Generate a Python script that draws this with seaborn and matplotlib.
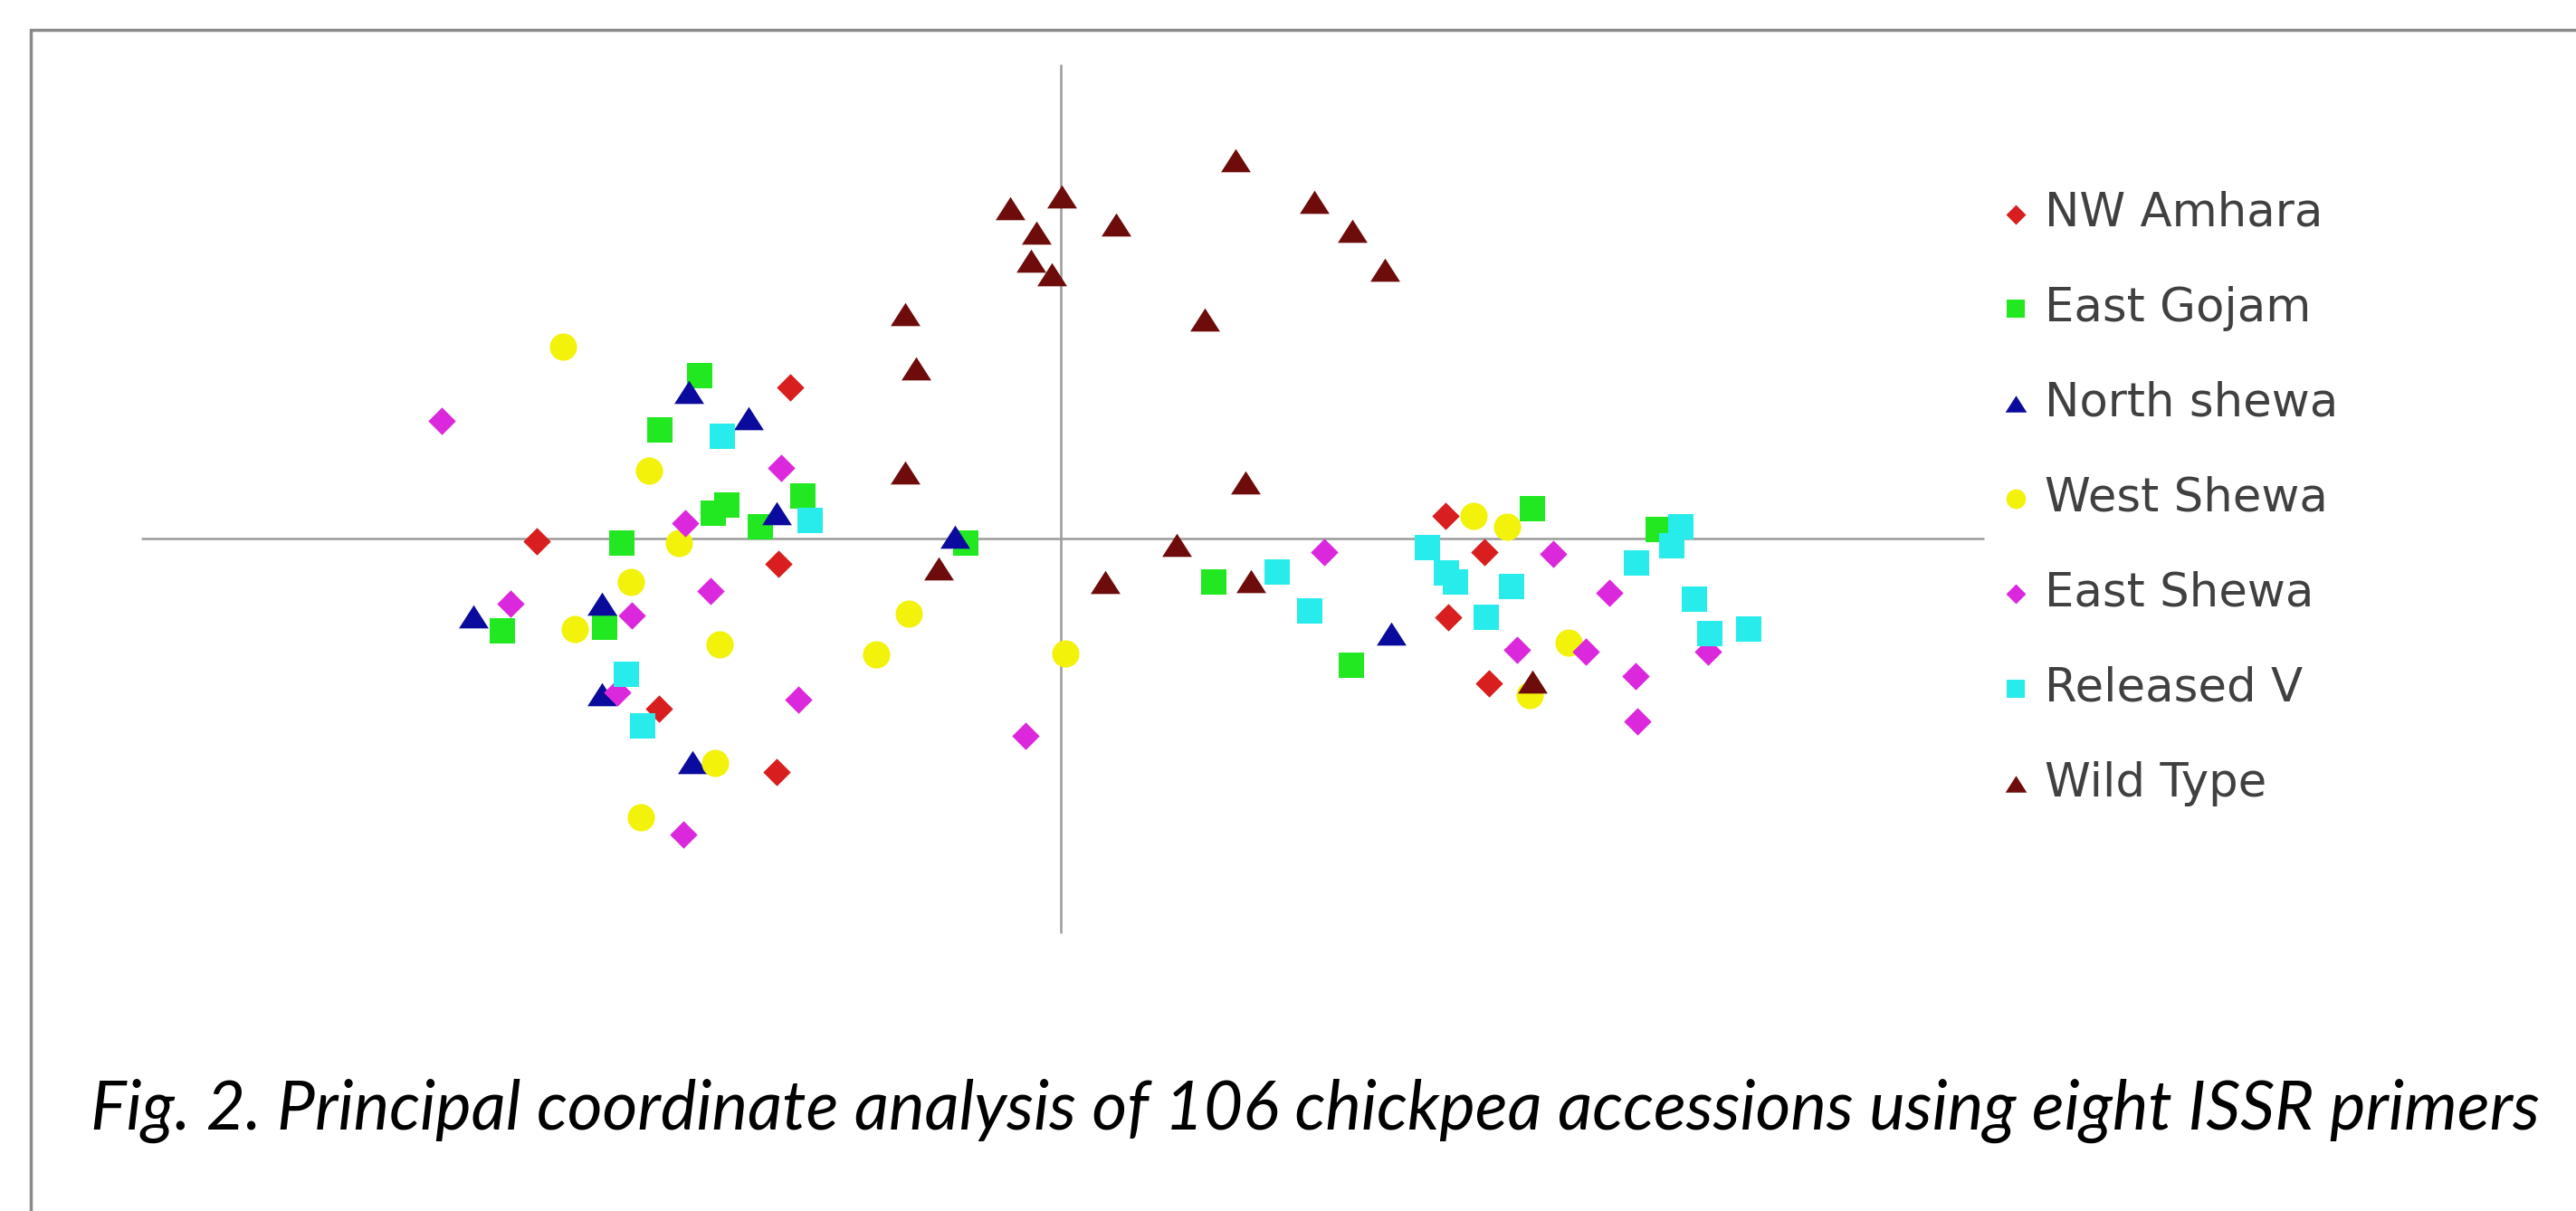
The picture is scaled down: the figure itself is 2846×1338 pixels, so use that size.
import matplotlib
matplotlib.use("Agg")
import matplotlib.pyplot as plt
import seaborn as sns
from matplotlib.patches import Rectangle

# PCoA coordinates (arbitrary units, origin at the axis cross)
nw_amhara_x = [-2.99, -5.79, -3.12, -4.44, -3.14, 4.25, 4.68, 4.28, 4.73]
nw_amhara_y = [1.67, -0.03, -0.28, -1.88, -2.58, 0.25, -0.15, -0.87, -1.60]

east_gojam_x = [-3.99, -4.43, -3.84, -3.69, -2.85, -3.32, -4.85, -6.17, -5.04, -1.05, 1.69, 3.21, 5.21, 6.60]
east_gojam_y = [1.80, 1.20, 0.28, 0.37, 0.47, 0.13, -0.05, -1.02, -0.98, -0.05, -0.48, -1.40, 0.33, 0.10]

north_shewa_x = [-4.11, -3.45, -3.14, -1.17, -6.49, -5.07, -5.07, -4.07, 3.65]
north_shewa_y = [1.62, 1.33, 0.28, 0.02, -0.86, -0.72, -1.72, -2.47, -1.05]

west_shewa_x = [-5.50, -4.55, -4.22, -4.75, -5.37, -3.77, -3.82, -4.64, -1.68, -2.04, 0.05, 4.56, 4.93, 5.61, 5.18]
west_shewa_y = [2.12, 0.75, -0.05, -0.48, -1.00, -1.17, -2.48, -3.08, -0.83, -1.28, -1.27, 0.25, 0.13, -1.15, -1.73]

east_shewa_x = [-6.84, -3.09, -4.15, -3.87, -6.08, -4.74, -4.90, -4.17, -2.90, -0.39, 2.91, 5.44, 6.06, 5.04, 5.80, 6.35, 6.37, 7.15]
east_shewa_y = [1.30, 0.78, 0.17, -0.58, -0.72, -0.85, -1.70, -3.27, -1.78, -2.18, -0.15, -0.17, -0.60, -1.23, -1.25, -1.52, -2.02, -1.25]

released_x = [-3.74, -2.77, -4.80, -4.62, 2.39, 2.75, 4.05, 4.26, 4.36, 4.98, 4.70, 6.36, 6.75, 6.85, 7.00, 7.17, 7.60]
released_y = [1.13, 0.20, -1.50, -2.07, -0.37, -0.80, -0.10, -0.38, -0.48, -0.53, -0.87, -0.27, -0.08, 0.13, -0.67, -1.05, -1.00]

wild_x = [-0.56, 0.01, -0.27, -0.33, -0.10, 0.61, 1.93, 2.80, 3.22, 3.58, 1.59, -1.72, -1.60, -1.72, 2.04, 1.28, -1.35, 0.49, 2.10, 5.21]
wild_y = [3.65, 3.78, 3.38, 3.07, 2.92, 3.47, 4.18, 3.72, 3.40, 2.97, 2.42, 2.48, 1.88, 0.73, 0.62, -0.07, -0.33, -0.48, -0.47, -1.58]

group_names = ["NW Amhara", "East Gojam", "North shewa", "West Shewa", "East Shewa", "Released V", "Wild Type"]
caption = "Fig. 2. Principal coordinate analysis of 106 chickpea accessions using eight ISSR primers"

# Excel-like flat triangle
tri = [(-1, -0.78), (1, -0.78), (0, 0.78)]
styles = [
    ("#d81e1e", "D", 240),
    ("#22e822", "s", 380),
    ("#0a0a9c", tri, 560),
    ("#f2f20a", "o", 470),
    ("#dc28dc", "D", 240),
    ("#28ecec", "s", 380),
    ("#6e0b0b", tri, 560),
]
series = [
    (nw_amhara_x, nw_amhara_y),
    (east_gojam_x, east_gojam_y),
    (north_shewa_x, north_shewa_y),
    (west_shewa_x, west_shewa_y),
    (east_shewa_x, east_shewa_y),
    (released_x, released_y),
    (wild_x, wild_y),
]

sns.set_style("white")
plt.rcParams["font.family"] = ["DejaVu Sans"]

W, H = 2846, 1338
fig = plt.figure(figsize=(W / 100, H / 100), dpi=100)
ax = fig.add_axes([0, 0, 1, 1])
ax.set_xlim(-11.72, 16.74)
ax.set_ylim(-7.43, 5.95)
ax.axis("off")

# axis cross
ax.axhline(0, xmin=157 / W, xmax=2191 / W, color="#9a9a9a", lw=1.8, zorder=1)
ax.axvline(0, ymin=(H - 1030) / H, ymax=(H - 72) / H, color="#9a9a9a", lw=1.8, zorder=1)

for name, (xs, ys), (col, mk, size) in zip(group_names, series, styles):
    sns.scatterplot(x=xs, y=ys, ax=ax, color=col, marker=mk, s=size,
                    linewidth=0, label=name, zorder=3)

handles, labels = ax.get_legend_handles_labels()
leg = ax.legend(handles, labels, loc="upper left",
                bbox_to_anchor=(2205 / W, 1 - 211 / H), bbox_transform=fig.transFigure,
                frameon=False, fontsize=37, markerscale=0.72,
                handlelength=0.85, handletextpad=0.2, labelspacing=1.07,
                borderpad=0, borderaxespad=0)
for t in leg.get_texts():
    t.set_color("#404040")

# page frame (left and top edges visible)
fig.patches.append(Rectangle((34 / W, -0.2), 1.5, 1.2 - 33 / H, transform=fig.transFigure,
                             fill=False, edgecolor="#8a8a8a", lw=2.5))

cap = fig.text(100 / W, 1 - 1248 / H, caption, fontsize=50, style="italic",
               family=["Lato", "DejaVu Sans"], va="baseline", ha="left", color="black")
fig.canvas.draw()
w = cap.get_window_extent().width
cap.set_fontsize(50 * 2709 / w)

fig.savefig("out.png", dpi=100)
